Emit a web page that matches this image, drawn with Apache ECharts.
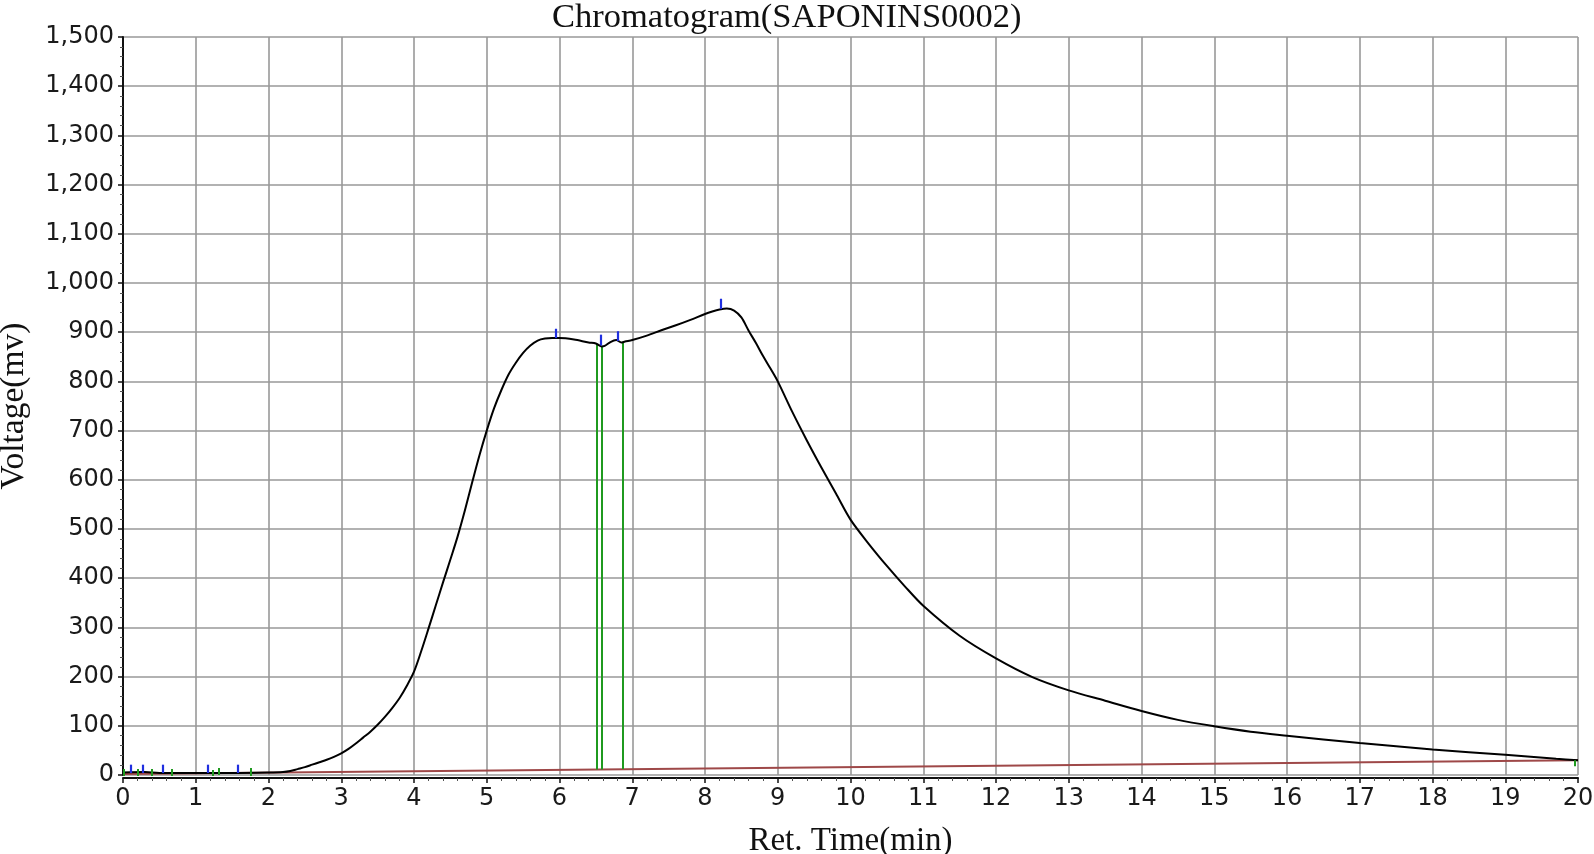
<!DOCTYPE html>
<html>
<head>
<meta charset="utf-8">
<script src="https://cdn.jsdelivr.net/npm/echarts@6/dist/echarts.min.js"></script>
<style>
html,body{margin:0;padding:0;background:#fff;}
#chart{width:1594px;height:854px;}
</style>
</head>
<body>
<div id="chart"></div>
<script>
// Retention time (min) and detector voltage (mV) of the chromatogram trace
const retTime = [0, 0.3, 0.5, 1, 1.5, 2, 2.2, 2.3, 2.4, 2.5, 2.6, 2.7, 2.8, 2.9, 3.0, 3.1, 3.2, 3.3, 3.4, 3.5, 3.6, 3.7, 3.8, 3.9, 4.0, 4.1, 4.2, 4.3, 4.4, 4.5, 4.6, 4.7, 4.8, 4.9, 5.0, 5.1, 5.2, 5.3, 5.4, 5.5, 5.6, 5.7, 5.8, 5.9, 6.0, 6.2, 6.4, 6.5, 6.58, 6.62, 6.7, 6.78, 6.85, 6.9, 7.0, 7.2, 7.4, 7.6, 7.8, 8.0, 8.1, 8.2, 8.3, 8.4, 8.5, 8.6, 8.7, 8.8, 8.9, 9.0, 9.2, 9.4, 9.6, 9.8, 10.0, 10.25, 10.5, 10.75, 11, 11.5, 12, 12.5, 13, 13.5, 14, 14.5, 15, 15.5, 16, 17, 18, 19, 19.7, 20];
const voltage = [5, 6, 4, 4, 4, 5, 6, 8, 12, 16, 21, 26, 31, 37, 44, 53, 64, 76, 88, 102, 118, 136, 156, 181, 210, 252, 298, 345, 392, 438, 485, 538, 595, 650, 700, 745, 782, 814, 838, 858, 873, 883, 887, 888, 888, 885, 879, 877, 871, 872, 880, 884, 879, 881, 884, 893, 904, 914, 925, 937, 942, 946, 948, 944, 930, 903, 878, 851, 826, 800, 738, 680, 625, 572, 519, 470, 425, 383, 344, 283, 237, 199, 172, 151, 130, 112, 99, 88, 80, 65, 52, 41, 33, 30];

// Integration baseline
const baseTime = [0, 20];
const baseVolt = [2, 30];

// Peak separation (drop) lines: time, baseline level, curve level
const dropTime = [6.515, 6.584, 6.873];
const dropLow = [11, 11, 12];
const dropHigh = [876, 871, 881];

// Peak apex markers (blue): time, low, high
const apexTime = [5.95, 6.57, 6.80, 8.21, 0.11, 0.27, 0.54, 1.17, 1.58];
const apexLow = [888, 873, 882, 947, 4, 4, 4, 4, 4];
const apexHigh = [907, 895, 902, 968, 21, 21, 21, 21, 21];

// Peak start/end markers (green) near baseline
const edgeTime = [0.01, 0.2, 0.4, 0.67, 1.23, 1.31, 1.76, 19.96];
const edgeLow = [-6, -6, -6, -6, -6, 0, -6, 18];
const edgeHigh = [12, 12, 12, 12, 10, 14, 14, 30];

const xTicks = {min: 0, max: 20, interval: 1};
const yTicks = {min: 0, max: 1500, interval: 100};

function segs(t, lo, hi) {
  return t.map((v, i) => ({coords: [[v, lo[i]], [v, hi[i]]]}));
}

const chart = echarts.init(document.getElementById('chart'), null, {renderer: 'canvas'});
chart.setOption({
  backgroundColor: '#ffffff',
  animation: false,
  title: {
    text: 'Chromatogram(SAPONINS0002)',
    left: 547, top: -5,
    textStyle: {fontFamily: 'Liberation Serif', fontSize: 34.5, fontWeight: 'normal', color: '#111'}
  },
  grid: {left: 123, right: 16, top: 37, bottom: 79, containLabel: false, outerBoundsMode: 'none'},
  xAxis: {
    type: 'value', min: xTicks.min, max: xTicks.max, interval: xTicks.interval,
    offset: 3,
    name: 'Ret. Time(min)', nameLocation: 'middle', nameGap: 47,
    nameTextStyle: {fontFamily: 'Liberation Serif', fontSize: 33, color: '#111'},
    axisLine: {show: true, onZero: false, lineStyle: {color: '#111', width: 2}},
    axisTick: {show: true, length: 5, lineStyle: {color: '#111', width: 1.5}},
    minorTick: {show: true, splitNumber: 5, length: 3, lineStyle: {color: '#555', width: 1}},
    axisLabel: {fontFamily: 'DejaVu Sans', fontSize: 24, color: '#1a1a1a', margin: 9},
    splitLine: {show: true, lineStyle: {color: '#999', width: 1.6}}
  },
  yAxis: {
    type: 'value', min: yTicks.min, max: yTicks.max, interval: yTicks.interval,
    name: 'Voltage(mv)', nameLocation: 'middle', nameGap: 92, nameRotate: 90,
    nameTextStyle: {fontFamily: 'Liberation Serif', fontSize: 33.5, color: '#111'},
    axisLine: {show: true, lineStyle: {color: '#111', width: 2}},
    axisTick: {show: true, length: 5, lineStyle: {color: '#111', width: 1.5}},
    minorTick: {show: true, splitNumber: 5, length: 3, lineStyle: {color: '#555', width: 1}},
    axisLabel: {fontFamily: 'DejaVu Sans', fontSize: 24, color: '#1a1a1a', margin: 9,
      formatter: v => v.toLocaleString('en-US')},
    splitLine: {show: true, lineStyle: {color: '#999', width: 1.6}}
  },
  series: [
    {
      type: 'line', name: 'baseline', showSymbol: false, symbol: 'none',
      data: baseTime.map((t, i) => [t, baseVolt[i]]),
      lineStyle: {color: '#9e4848', width: 1.8}, z: 3
    },
    {
      type: 'lines', coordinateSystem: 'cartesian2d', name: 'drop',
      data: segs(dropTime, dropLow, dropHigh),
      lineStyle: {color: '#1f9a1f', width: 2, opacity: 1}, z: 4
    },
    {
      type: 'line', name: 'signal', showSymbol: false, symbol: 'none', smooth: 0.3,
      data: retTime.map((t, i) => [t, voltage[i]]),
      lineStyle: {color: '#000', width: 2}, z: 5
    },
    {
      type: 'lines', coordinateSystem: 'cartesian2d', name: 'apex',
      data: segs(apexTime, apexLow, apexHigh),
      lineStyle: {color: '#1f2fe0', width: 2.2, opacity: 1}, z: 6
    },
    {
      type: 'lines', coordinateSystem: 'cartesian2d', name: 'edge',
      data: segs(edgeTime, edgeLow, edgeHigh),
      lineStyle: {color: '#1f9a1f', width: 2, opacity: 1}, z: 6
    }
  ]
});
</script>
</body>
</html>
